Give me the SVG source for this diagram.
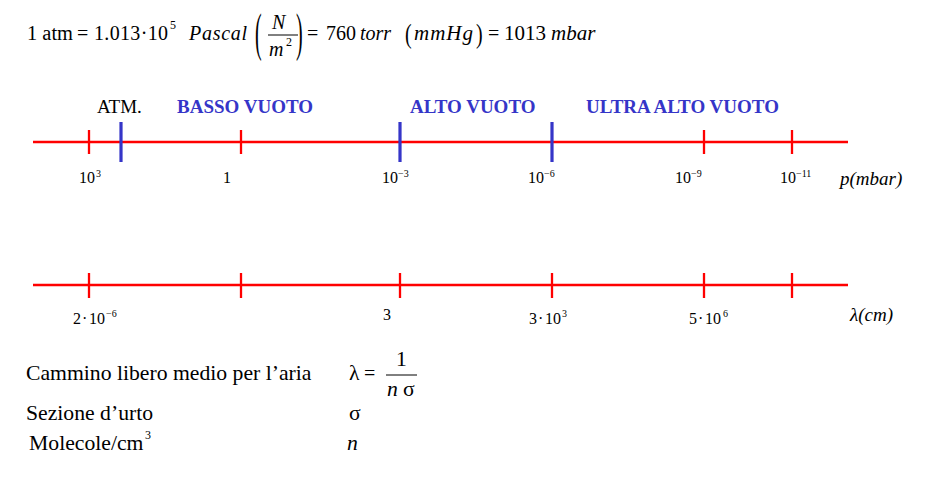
<svg xmlns="http://www.w3.org/2000/svg" width="934" height="484" viewBox="0 0 934 484">
<style>
text{font-family:"Liberation Serif","Times New Roman",serif;fill:#000}
.f{font-size:20px}
.g{font-size:21px}
.i{font-style:italic}
.s{font-size:12px}
.reg{font-size:19px;font-weight:bold;fill:#3535c8}
.lab{font-size:16px}
.sup{font-size:10px}
.ax{stroke:#ff0000;stroke-width:2.3;fill:none}
.rt{stroke:#ff0000;stroke-width:2.3}
.bt{stroke:#3535c8;stroke-width:3.2}
.b{font-size:21.7px}
</style>
<rect width="934" height="484" fill="#fff"/>
<g id="formula-pressure">
<text class="f" x="27" y="40" textLength="46" lengthAdjust="spacingAndGlyphs">1 atm</text>
<text class="f" x="77" y="40">=</text>
<text class="f" x="94" y="40" textLength="74">1.013·10</text>
<text class="s" x="170" y="29">5</text>
<text class="f i" x="189" y="40" textLength="58">Pascal</text>
<text class="f" transform="translate(255,50) scale(1,2.6)">(</text>
<text class="f i" x="272" y="29">N</text>
<line x1="268" y1="35" x2="298" y2="35" stroke="#000" stroke-width="1"/>
<text class="f i" x="269" y="56">m</text>
<text class="s" x="286" y="46">2</text>
<text class="f" transform="translate(296,50) scale(1,2.6)">)</text>
<text class="f" x="307" y="40">=</text>
<text class="f" x="326" y="40">760</text>
<text class="f i" x="360" y="40">torr</text>
<text class="f" transform="translate(405,43) scale(1,1.35)">(</text>
<text class="g i" x="414" y="40" letter-spacing="1">mmHg</text>
<text class="f" transform="translate(476,43) scale(1,1.35)">)</text>
<text class="f" x="488" y="40">=</text>
<text class="g" x="504" y="40">1013</text>
<text class="g i" x="551" y="40">mbar</text>
</g>
<g id="region-labels">
<text x="97" y="113" style="font-size:19px">ATM.</text>
<text class="reg" x="177" y="113">BASSO VUOTO</text>
<text class="reg" x="410" y="113">ALTO VUOTO</text>
<text class="reg" x="586" y="113">ULTRA ALTO VUOTO</text>
</g>
<g id="pressure-axis">
<line class="ax" x1="33" y1="142" x2="848" y2="142"/>
<line class="rt" x1="89" y1="130" x2="89" y2="154"/>
<line class="rt" x1="241" y1="130" x2="241" y2="154"/>
<line class="rt" x1="704" y1="130" x2="704" y2="154"/>
<line class="rt" x1="792" y1="130" x2="792" y2="154"/>
<line class="bt" x1="121" y1="122" x2="121" y2="162"/>
<line class="bt" x1="400" y1="122" x2="400" y2="162"/>
<line class="bt" x1="552" y1="122" x2="552" y2="162"/>
<text class="lab" x="79" y="183">10<tspan class="sup" dx="1" dy="-6">3</tspan></text>
<text class="lab" x="223" y="183">1</text>
<text class="lab" x="382" y="183">10<tspan class="sup" dy="-6">−3</tspan></text>
<text class="lab" x="528" y="183">10<tspan class="sup" dy="-6">−6</tspan></text>
<text class="lab" x="675" y="183">10<tspan class="sup" dy="-6">−9</tspan></text>
<text class="lab" x="780" y="183">10<tspan class="sup" dy="-6">−11</tspan></text>
<text class="i" x="840" y="185" style="font-size:19px">p(mbar)</text>
</g>
<g id="lambda-axis">
<line class="ax" x1="33" y1="285" x2="848" y2="285"/>
<line class="rt" x1="89" y1="273" x2="89" y2="298"/>
<line class="rt" x1="241" y1="273" x2="241" y2="298"/>
<line class="rt" x1="400" y1="273" x2="400" y2="298"/>
<line class="rt" x1="552" y1="273" x2="552" y2="298"/>
<line class="rt" x1="704" y1="273" x2="704" y2="298"/>
<line class="rt" x1="792" y1="273" x2="792" y2="298"/>
<text class="lab" x="73" y="324">2</text>
<text class="lab" x="82" y="324">·</text>
<text class="lab" x="89" y="324">10<tspan class="sup" dx="1" dy="-7">−6</tspan></text>
<text class="lab" x="383" y="320">3</text>
<text class="lab" x="529" y="324">3</text>
<text class="lab" x="538" y="324">·</text>
<text class="lab" x="545" y="324">10<tspan class="sup" dx="1" dy="-7">3</tspan></text>
<text class="lab" x="689" y="324">5</text>
<text class="lab" x="698" y="324">·</text>
<text class="lab" x="705" y="324">10<tspan class="sup" dx="2" dy="-7">6</tspan></text>
<text class="i" x="850" y="321" style="font-size:19px">λ(cm)</text>
</g>
<g id="definitions">
<text class="b" x="26" y="380">Cammino libero medio per l’aria</text>
<text class="b" x="349" y="380">λ</text>
<text class="f" x="364" y="380">=</text>
<text class="b" x="396" y="366">1</text>
<line x1="386" y1="375" x2="417" y2="375" stroke="#000" stroke-width="1"/>
<text class="b i" x="387" y="396">n</text>
<text class="b" x="403" y="396">σ</text>
<text class="b" x="26" y="420">Sezione d’urto</text>
<text class="b" x="349" y="420">σ</text>
<text class="b" x="29" y="450">Molecole/cm</text>
<text class="s" x="145" y="439">3</text>
<text class="b i" x="347" y="450">n</text>
</g>
</svg>
